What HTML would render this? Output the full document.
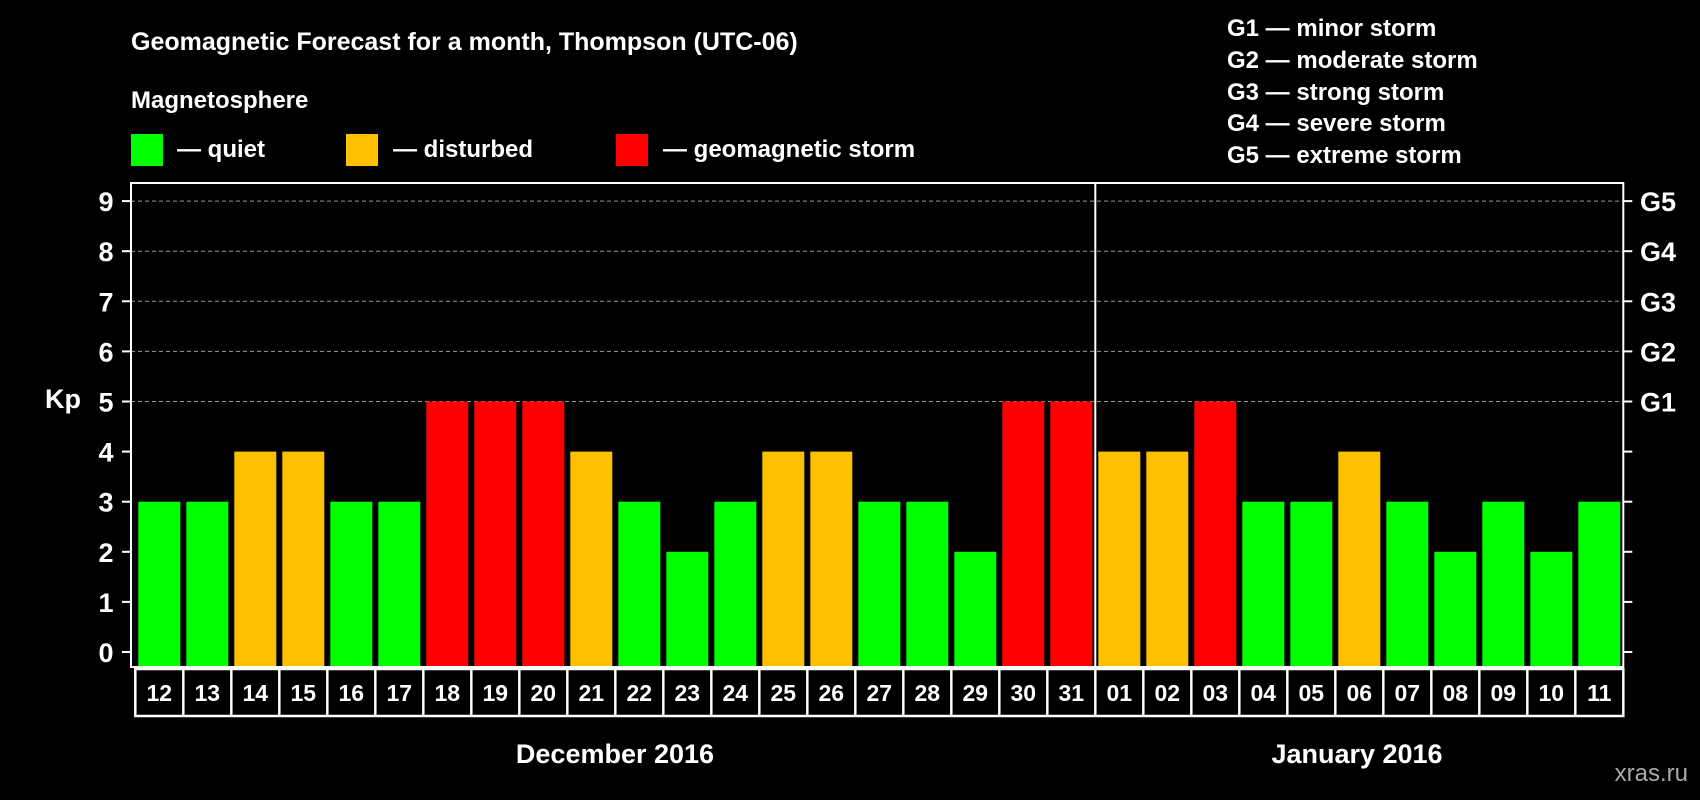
<!DOCTYPE html>
<html><head><meta charset="utf-8"><style>
html,body{margin:0;padding:0;background:#000;}
svg{display:block;font-family:"Liberation Sans",Arial,sans-serif;font-weight:bold;}
</style></head><body>
<svg id="chart" width="1700" height="800" viewBox="0 0 1700 800" xmlns="http://www.w3.org/2000/svg">
<rect width="1700" height="800" fill="#000"/>
<text x="131" y="50" fill="#fff" font-size="25">Geomagnetic Forecast for a month, Thompson (UTC-06)</text>
<text x="131" y="108" fill="#fff" font-size="24">Magnetosphere</text>
<g><rect x="131" y="134" width="32" height="32" fill="#00ff00"/><text x="177" y="157" fill="#fff" font-size="24">— quiet</text></g>
<g><rect x="346" y="134" width="32" height="32" fill="#ffc000"/><text x="393" y="157" fill="#fff" font-size="24">— disturbed</text></g>
<g><rect x="616" y="134" width="32" height="32" fill="#ff0000"/><text x="663" y="157" fill="#fff" font-size="24">— geomagnetic storm</text></g>
<g fill="#fff" font-size="24">
<text x="1227" y="36">G1 — minor storm</text>
<text x="1227" y="68">G2 — moderate storm</text>
<text x="1227" y="100">G3 — strong storm</text>
<text x="1227" y="131">G4 — severe storm</text>
<text x="1227" y="163">G5 — extreme storm</text>
</g>
<text x="63" y="408" fill="#fff" font-size="27" text-anchor="middle">Kp</text>
<g id="grid"></g>
<g id="bars"></g>
<g id="axes"></g>
<text x="615" y="763" fill="#fff" font-size="27" text-anchor="middle">December 2016</text>
<text x="1357" y="763" fill="#fff" font-size="27" text-anchor="middle">January 2016</text>
<text x="1688" y="781" fill="#aaa" font-size="24" font-weight="normal" text-anchor="end">xras.ru</text>
</svg>
<script>
const days = ["12","13","14","15","16","17","18","19","20","21","22","23","24","25","26","27","28","29","30","31","01","02","03","04","05","06","07","08","09","10","11"];
const kpValues = [3,3,4,4,3,3,5,5,5,4,3,2,3,4,4,3,3,2,5,5,4,4,5,3,3,4,3,2,3,2,3];
const yTicks = [0,1,2,3,4,5,6,7,8,9];
const gLabels = ["","","","","","G1","G2","G3","G4","G5"];
const monthBreakIndex = 20;

const NS="http://www.w3.org/2000/svg";
const slot0=135.3, slotW=48, plotL=131, plotR=1623.3, plotT=183, plotB=667;
const y0=652, unit=50.1;
function xs(i){return slot0+i*slotW;}
function ys(v){return y0-v*unit;}
function mk(tag,attrs,parent){const e=document.createElementNS(NS,tag);for(const k in attrs)e.setAttribute(k,attrs[k]);parent.appendChild(e);return e;}
function color(v){return v>=5?"#ff0000":(v>=4?"#ffc000":"#00ff00");}

const grid=document.getElementById("grid"), bars=document.getElementById("bars"), axes=document.getElementById("axes");
yTicks.forEach(t=>{
  if(t>=5){const l=mk("line",{x1:plotL,x2:plotR,y1:ys(t),y2:ys(t),stroke:"#999","stroke-width":1,"stroke-dasharray":"4,3"},grid);
    
    }
  const lt=mk("line",{x1:plotL-9,x2:plotL,y1:ys(t),y2:ys(t),stroke:"#fff","stroke-width":2},axes);
  
  
  const rt=mk("line",{x1:plotR,x2:plotR+9,y1:ys(t),y2:ys(t),stroke:"#fff","stroke-width":2},axes);
  
  
  const tl=mk("text",{x:106,y:ys(t)+10,fill:"#fff","font-size":27,"text-anchor":"middle"},axes);
  tl.textContent=t;
  
  
  if(gLabels[t]){const gl=mk("text",{x:1640,y:ys(t)+10,fill:"#fff","font-size":27},axes);
    gl.textContent=gLabels[t];
    
    }
});
kpValues.forEach((v,i)=>{
  const r=mk("rect",{x:xs(i)+3,y:ys(v),width:42,height:plotB-ys(v),fill:color(v)},bars);
  
  
});
const box=mk("rect",{x:plotL,y:plotT,width:plotR-plotL,height:plotB-plotT,fill:"none",stroke:"#fff","stroke-width":2},axes);


const dv=mk("line",{x1:xs(monthBreakIndex),x2:xs(monthBreakIndex),y1:plotT,y2:plotB,stroke:"#fff","stroke-width":2},axes);


const row=mk("rect",{x:xs(0),y:669,width:xs(days.length)-xs(0),height:47,fill:"none",stroke:"#fff","stroke-width":2.5},axes);


days.forEach((d,i)=>{
  if(i>0){const s=mk("line",{x1:xs(i),x2:xs(i),y1:669,y2:716,stroke:"#fff","stroke-width":2.5},axes);
    
    }
  const t=mk("text",{x:xs(i)+24,y:701,fill:"#fff","font-size":23,"text-anchor":"middle"},axes);
  t.textContent=d;
  
  
});
</script>
</body></html>
